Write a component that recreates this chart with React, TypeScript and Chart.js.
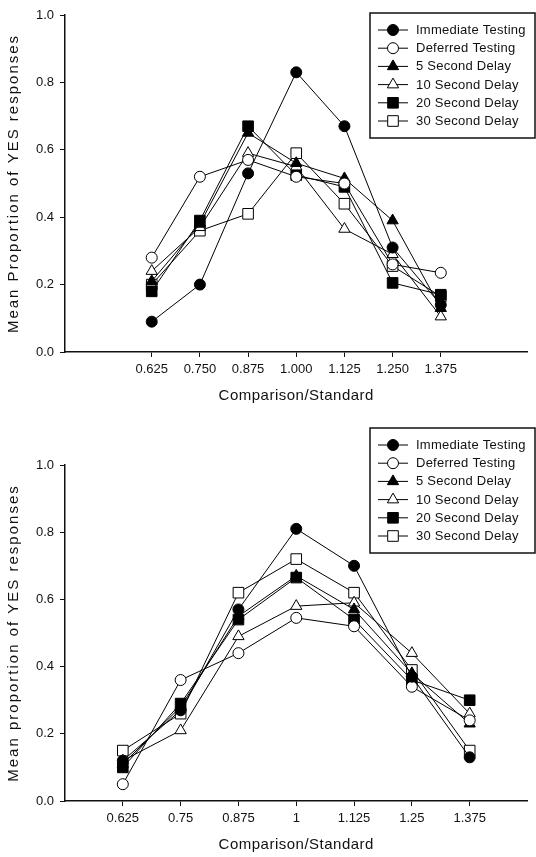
import React, { useEffect, useRef } from "react";
import { Chart, registerables } from "chart.js";
import { drawPoint } from "chart.js/helpers";

Chart.register(...registerables);

// ---------- data ----------
const SERIES_NAMES = [
  "Immediate Testing",
  "Deferred Testing",
  "5 Second Delay",
  "10 Second Delay",
  "20 Second Delay",
  "30 Second Delay",
];

const X_VALUES = [0.625, 0.75, 0.875, 1, 1.125, 1.25, 1.375];
const TOP_X_LABELS = ["0.625", "0.750", "0.875", "1.000", "1.125", "1.250", "1.375"];
const BOTTOM_X_LABELS = ["0.625", "0.75", "0.875", "1", "1.125", "1.25", "1.375"];
const Y_TICKS = [0, 0.2, 0.4, 0.6, 0.8, 1.0];
const Y_TICK_LABELS = ["0.0", "0.2", "0.4", "0.6", "0.8", "1.0"];

const TOP_IMMEDIATE = [0.09, 0.2, 0.53, 0.83, 0.67, 0.31, 0.14];
const TOP_DEFERRED = [0.28, 0.52, 0.57, 0.52, 0.5, 0.26, 0.235];
const TOP_5S = [0.21, 0.38, 0.65, 0.56, 0.515, 0.39, 0.13];
const TOP_10S = [0.24, 0.37, 0.59, 0.55, 0.365, 0.29, 0.105];
const TOP_20S = [0.18, 0.39, 0.67, 0.525, 0.49, 0.205, 0.17];
const TOP_30S = [0.2, 0.36, 0.41, 0.59, 0.44, 0.255, 0.165];

const BOT_IMMEDIATE = [0.12, 0.27, 0.57, 0.81, 0.7, 0.37, 0.13];
const BOT_DEFERRED = [0.05, 0.36, 0.44, 0.545, 0.52, 0.34, 0.24];
const BOT_5S = [0.11, 0.28, 0.55, 0.67, 0.57, 0.38, 0.23];
const BOT_10S = [0.12, 0.21, 0.49, 0.58, 0.59, 0.44, 0.26];
const BOT_20S = [0.1, 0.29, 0.54, 0.665, 0.54, 0.36, 0.3];
const BOT_30S = [0.15, 0.26, 0.62, 0.72, 0.62, 0.39, 0.15];

const TOP_SERIES = [TOP_IMMEDIATE, TOP_DEFERRED, TOP_5S, TOP_10S, TOP_20S, TOP_30S];
const BOT_SERIES = [BOT_IMMEDIATE, BOT_DEFERRED, BOT_5S, BOT_10S, BOT_20S, BOT_30S];

const TOP_Y_TITLE = "Mean Proportion of YES responses";
const BOT_Y_TITLE = "Mean proportion of YES responses";
const X_TITLE = "Comparison/Standard";

// ---------- styles ----------
const FONT = '"Liberation Sans", Arial, Helvetica, sans-serif';
const MARKERS = [
  { style: "circle", fill: "#000", r: 5.5 },
  { style: "circle", fill: "#fff", r: 5.5 },
  { style: "triangle", fill: "#000", r: 6.5 },
  { style: "triangle", fill: "#fff", r: 6.5 },
  { style: "rect", fill: "#000", r: 7.5 },
  { style: "rect", fill: "#fff", r: 7.5 },
];

const boxLegend = {
  id: "boxLegend",
  afterDraw(chart: any, _args: any, opts: any) {
    const { ctx } = chart;
    ctx.save();
    ctx.strokeStyle = "#111";
    ctx.lineWidth = 1.5;
    ctx.strokeRect(opts.x, opts.y, opts.w, opts.h);
    chart.data.datasets.forEach((ds: any, i: number) => {
      const cy = opts.rowY + i * opts.rowStep;
      ctx.strokeStyle = "#000";
      ctx.lineWidth = 1;
      ctx.beginPath();
      ctx.moveTo(opts.x + 8, cy);
      ctx.lineTo(opts.x + 38, cy);
      ctx.stroke();
      ctx.fillStyle = ds.pointBackgroundColor;
      drawPoint(
        ctx,
        { pointStyle: ds.pointStyle, radius: ds.pointRadius, borderWidth: 1, rotation: 0 },
        opts.x + 23,
        cy
      );
      ctx.fillStyle = "#111";
      ctx.font = `13px ${FONT}`;
      (ctx as any).letterSpacing = "0.25px";
      ctx.textAlign = "left";
      ctx.textBaseline = "middle";
      ctx.fillText(ds.label, opts.x + 46, cy + 0.5);
      (ctx as any).letterSpacing = "0px";
    });
    ctx.restore();
  },
};

const axisTitles = {
  id: "axisTitles",
  afterDraw(chart: any, _args: any, opts: any) {
    const { ctx, chartArea } = chart;
    ctx.save();
    ctx.fillStyle = "#111";
    ctx.textAlign = "center";
    ctx.textBaseline = "middle";
    ctx.font = `15px ${FONT}`;
    (ctx as any).letterSpacing = "0.5px";
    ctx.fillText(opts.xTitle, (chartArea.left + chartArea.right) / 2, opts.xTitleY);
    (ctx as any).letterSpacing = "2px";
    ctx.translate(opts.yTitleX, (chartArea.top + chartArea.bottom) / 2);
    ctx.rotate(-Math.PI / 2);
    ctx.fillText(opts.yTitle, 0, 0);
    (ctx as any).letterSpacing = "0px";
    ctx.restore();
  },
};

function makeConfig(p: {
  series: number[][];
  xLabels: string[];
  xMin: number;
  xMax: number;
  height: number;
  padTop: number;
  padRight: number;
  areaBottom: number;
  legend: any;
  yTitle: string;
  xTitleY: number;
}) {
  const datasets = p.series.map((vals, i) => ({
    label: SERIES_NAMES[i],
    data: X_VALUES.map((x, j) => ({ x, y: vals[j] })),
    borderColor: "#000",
    borderWidth: 1,
    pointStyle: MARKERS[i].style,
    pointRadius: MARKERS[i].r,
    pointBackgroundColor: MARKERS[i].fill,
    pointBorderColor: "#000",
    pointBorderWidth: 1,
    tension: 0,
    fill: false,
  }));
  return {
    type: "line",
    data: { datasets },
    plugins: [axisTitles, boxLegend],
    options: {
      responsive: false,
      animation: false,
      events: [],
      layout: { padding: { top: p.padTop, right: p.padRight, left: 0, bottom: 0 } },
      plugins: {
        legend: { display: false },
        tooltip: { enabled: false },
        boxLegend: p.legend,
        axisTitles: { xTitle: X_TITLE, yTitle: p.yTitle, xTitleY: p.xTitleY, yTitleX: 14 },
      },
      scales: {
        x: {
          type: "linear",
          min: p.xMin,
          max: p.xMax,
          afterBuildTicks: (s: any) => {
            s.ticks = X_VALUES.map((v) => ({ value: v }));
          },
          afterFit: (s: any) => {
            s.height = p.height - p.areaBottom;
          },
          ticks: {
            autoSkip: false,
            maxRotation: 0,
            padding: 5,
            color: "#111",
            font: { family: FONT, size: 13 },
            callback: (_v: any, i: number) => p.xLabels[i],
          },
          grid: { display: true, drawOnChartArea: false, drawTicks: true, tickLength: 5, color: "#111", lineWidth: 1 },
          border: { display: true, color: "#111", width: 1.5 },
          title: { display: false },
        },
        y: {
          type: "linear",
          min: 0,
          max: 1,
          afterBuildTicks: (s: any) => {
            s.ticks = Y_TICKS.map((v) => ({ value: v }));
          },
          afterFit: (s: any) => {
            s.width = 65;
          },
          ticks: {
            padding: 6,
            color: "#111",
            font: { family: FONT, size: 13 },
            callback: (_v: any, i: number) => Y_TICK_LABELS[i],
          },
          grid: { display: true, drawOnChartArea: false, drawTicks: true, tickLength: 5, color: "#111", lineWidth: 1 },
          border: { display: true, color: "#111", width: 1.5 },
          title: { display: false },
        },
      },
    },
  };
}

function Panel(props: { config: any; width: number; height: number; top: number }) {
  const ref = useRef<HTMLCanvasElement | null>(null);
  useEffect(() => {
    if (!ref.current) return;
    const chart = new Chart(ref.current, props.config);
    return () => chart.destroy();
  }, []);
  return (
    <canvas
      ref={ref}
      width={props.width}
      height={props.height}
      style={{ position: "absolute", left: 0, top: props.top, width: props.width, height: props.height, display: "block" }}
    />
  );
}

export default function App() {
  const topConfig = makeConfig({
    series: TOP_SERIES,
    xLabels: TOP_X_LABELS,
    xMin: 0.4,
    xMax: 1.6,
    height: 420,
    padTop: 15,
    padRight: 3,
    areaBottom: 352,
    legend: { x: 370, y: 13, w: 165, h: 125, rowY: 30, rowStep: 18.2 },
    yTitle: TOP_Y_TITLE,
    xTitleY: 396,
  });
  const botConfig = makeConfig({
    series: BOT_SERIES,
    xLabels: BOTTOM_X_LABELS,
    xMin: 0.5,
    xMax: 1.5,
    height: 437,
    padTop: 45,
    padRight: 6,
    areaBottom: 381,
    legend: { x: 370, y: 8, w: 165, h: 125, rowY: 25, rowStep: 18.2 },
    yTitle: BOT_Y_TITLE,
    xTitleY: 425,
  });
  return (
    <div style={{ position: "absolute", left: 0, top: 0, width: 536, height: 857, background: "#fff", overflow: "hidden" }}>
      <Panel config={topConfig} width={536} height={420} top={0} />
      <Panel config={botConfig} width={536} height={437} top={420} />
    </div>
  );
}
